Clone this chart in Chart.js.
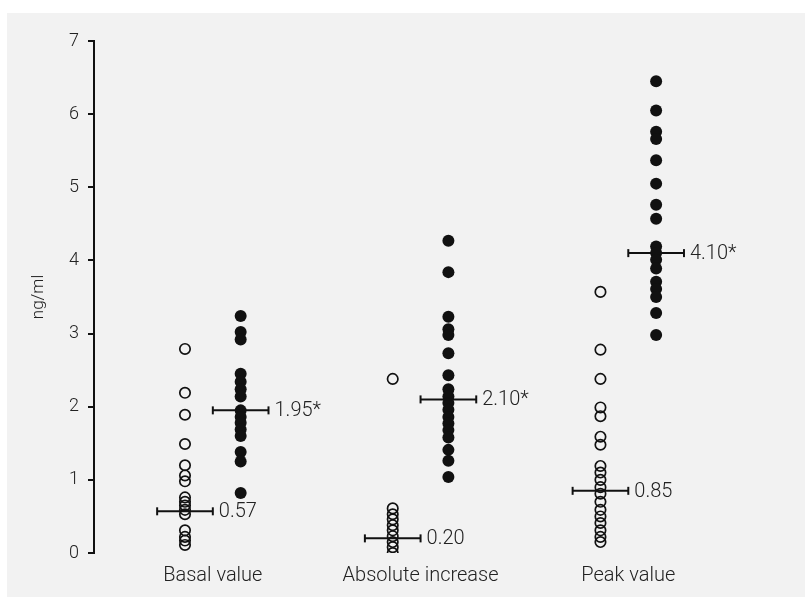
<!DOCTYPE html>
<html><head><meta charset="utf-8">
<script src="https://cdn.jsdelivr.net/npm/chart.js@4.4.0/dist/chart.umd.min.js"></script>
<style>html,body{margin:0;padding:0;background:#fff;}canvas{display:block;}</style>
</head><body>
<canvas id="c" width="805" height="597"></canvas>
<script>
// ---- data ----
const categories = ['Basal value', 'Absolute increase', 'Peak value'];
const basalOpen   = [2.79, 2.19, 1.89, 1.49, 1.20, 1.06, 0.98, 0.76, 0.70, 0.65, 0.59, 0.53, 0.31, 0.22, 0.17, 0.11];
const basalFilled = [3.24, 3.02, 2.92, 2.45, 2.34, 2.24, 2.14, 1.95, 1.86, 1.78, 1.69, 1.60, 1.38, 1.25, 0.82];
const absOpen     = [2.38, 0.61, 0.53, 0.46, 0.38, 0.31, 0.23, 0.15, 0.08, 0.00];
const absFilled   = [4.27, 3.84, 3.23, 3.06, 2.98, 2.73, 2.43, 2.24, 2.14, 2.05, 1.96, 1.86, 1.77, 1.68, 1.58, 1.41, 1.26, 1.04];
const peakOpen    = [3.57, 2.78, 2.38, 1.99, 1.87, 1.59, 1.48, 1.19, 1.10, 1.00, 0.90, 0.81, 0.70, 0.59, 0.50, 0.41, 0.31, 0.22, 0.15];
const peakFilled  = [6.45, 6.05, 5.76, 5.66, 5.37, 5.05, 4.76, 4.57, 4.19, 4.10, 4.01, 3.89, 3.71, 3.61, 3.50, 3.28, 2.98];
const openMeans   = [0.57, 0.20, 0.85];
const filledMeans = [1.95, 2.10, 4.10];
const openMeanLabels   = ['0.57', '0.20', '0.85'];
const filledMeanLabels = ['1.95*', '2.10*', '4.10*'];
const yTicks = [0, 1, 2, 3, 4, 5, 6, 7];
const yTitle = 'ng/ml';

// ---- style ----
const openSeries = [basalOpen, absOpen, peakOpen];
const filledSeries = [basalFilled, absFilled, peakFilled];
const OFFSET = 0.134;
const FONT = 'Roboto, "Liberation Sans", sans-serif';
const INK = '#111111';
const TXT = '#222222';

const datasets = [];
categories.forEach((cat, i) => {
  const c = i + 1;
  datasets.push({
    type: 'line', order: 0, showLine: true,
    data: [{x: c - 2 * OFFSET, y: openMeans[i]}, {x: c, y: openMeans[i]}],
    borderColor: INK, borderWidth: 2,
    pointStyle: 'line', pointRotation: 90, pointRadius: 4, pointBorderWidth: 2, pointBorderColor: INK
  });
  datasets.push({
    type: 'line', order: 0, showLine: true,
    data: [{x: c, y: filledMeans[i]}, {x: c + 2 * OFFSET, y: filledMeans[i]}],
    borderColor: INK, borderWidth: 2,
    pointStyle: 'line', pointRotation: 90, pointRadius: 4, pointBorderWidth: 2, pointBorderColor: INK
  });
  datasets.push({
    type: 'scatter', order: 1,
    data: openSeries[i].map(v => ({x: c - OFFSET, y: v})),
    pointStyle: 'circle', pointRadius: 5.2, pointBorderWidth: 1.7,
    pointBorderColor: INK, pointBackgroundColor: 'rgba(0,0,0,0)'
  });
  datasets.push({
    type: 'scatter', order: 1,
    data: filledSeries[i].map(v => ({x: c + OFFSET, y: v})),
    pointStyle: 'circle', pointRadius: 6, pointBorderWidth: 0,
    pointBorderColor: INK, pointBackgroundColor: INK
  });
});

const panelPlugin = {
  id: 'panel',
  beforeDraw(chart) {
    const ctx = chart.ctx;
    ctx.save();
    ctx.fillStyle = '#f2f2f2';
    ctx.fillRect(7, 13, chart.width - 7, chart.height - 13);
    ctx.restore();
  }
};

const meanLabelPlugin = {
  id: 'meanLabels',
  afterDatasetsDraw(chart) {
    const {ctx, scales: {x, y}} = chart;
    ctx.save();
    ctx.font = '300 20px ' + FONT;
    ctx.fillStyle = TXT;
    ctx.textBaseline = 'middle';
    ctx.textAlign = 'left';
    categories.forEach((cat, i) => {
      const c = i + 1;
      ctx.fillText(openMeanLabels[i], x.getPixelForValue(c) + 6, y.getPixelForValue(openMeans[i]) + 1);
      ctx.fillText(filledMeanLabels[i], x.getPixelForValue(c + 2 * OFFSET) + 6, y.getPixelForValue(filledMeans[i]) + 1);
    });
    ctx.restore();
  }
};

new Chart(document.getElementById('c'), {
  type: 'scatter',
  data: {datasets},
  plugins: [panelPlugin, meanLabelPlugin],
  options: {
    responsive: false,
    animation: false,
    layout: {padding: {left: 0, right: 45, top: 41, bottom: 0}},
    plugins: {legend: {display: false}, tooltip: {enabled: false}},
    scales: {
      x: {
        type: 'linear', min: 0.428, max: 3.634,
        grid: {display: false, drawTicks: false},
        border: {display: false},
        afterBuildTicks: (s) => { s.ticks = categories.map((c, i) => ({value: i + 1})); },
        afterFit: (s) => { s.height = 44; },
        ticks: {
          padding: 11,
          color: TXT,
          font: {family: FONT, size: 20, weight: '300'},
          callback: (v) => categories[Math.round(v) - 1] || ''
        }
      },
      y: {
        type: 'linear', min: 0, max: 7,
        afterBuildTicks: (s) => { s.ticks = yTicks.map(v => ({value: v})); },
        afterFit: (s) => { s.width = 94; },
        grid: {drawOnChartArea: false, drawTicks: true, tickLength: 6, color: INK, lineWidth: 2},
        border: {display: true, color: INK, width: 2},
        ticks: {padding: 9, color: TXT, font: {family: FONT, size: 18, weight: '300'}},
        title: {display: true, text: yTitle, color: TXT, font: {family: FONT, size: 17, weight: '300'}, padding: {top: 29, bottom: 0}}
      }
    }
  }
});
</script>
</body></html>
